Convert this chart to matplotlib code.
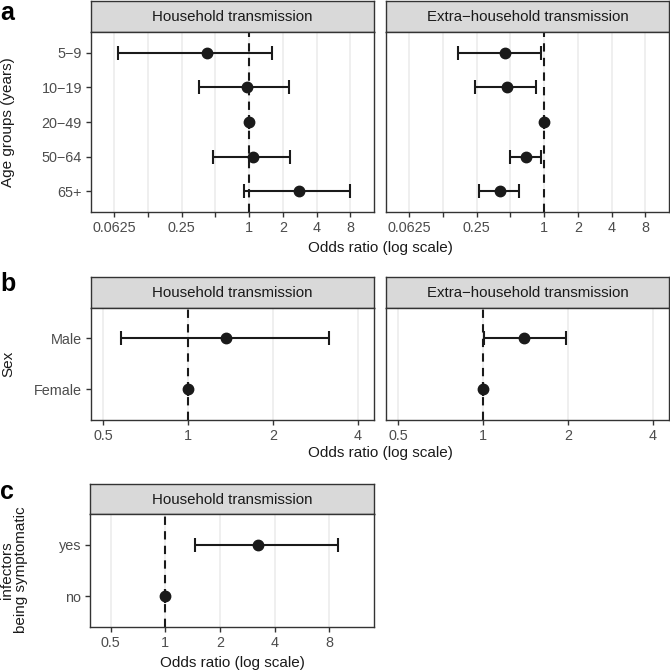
import matplotlib
matplotlib.use("Agg")
import matplotlib.pyplot as plt
from matplotlib.ticker import FixedLocator, NullLocator, FixedFormatter

plt.rcParams['font.family'] = ['Liberation Sans', 'DejaVu Sans']

# ---- data ----
age_groups = ["5\u22129", "10\u221219", "20\u221249", "50\u221264", "65+"]
age_house_or = [0.42, 0.95, 1.0, 1.08, 2.76]
age_house_lo = [0.068, 0.36, 1.0, 0.48, 0.90]
age_house_hi = [1.60, 2.28, 1.0, 2.32, 8.0]
age_extra_or = [0.45, 0.47, 1.0, 0.69, 0.40]
age_extra_lo = [0.17, 0.24, 1.0, 0.50, 0.26]
age_extra_hi = [0.94, 0.84, 1.0, 0.94, 0.60]

sex_groups = ["Male", "Female"]
sex_house_or = [1.36, 1.0]
sex_house_lo = [0.58, 1.0]
sex_house_hi = [3.16, 1.0]
sex_extra_or = [1.40, 1.0]
sex_extra_lo = [1.01, 1.0]
sex_extra_hi = [1.97, 1.0]

sym_groups = ["yes", "no"]
sym_house_or = [3.25, 1.0]
sym_house_lo = [1.46, 1.0]
sym_house_hi = [8.95, 1.0]

ticks_a = [0.0625, 0.125, 0.25, 0.5, 1, 2, 4, 8]
labels_a = ["0.0625", "", "0.25", "", "1", "2", "4", "8"]
ticks_b = [0.5, 1, 2, 4]
labels_b = ["0.5", "1", "2", "4"]
ticks_c = [0.5, 1, 2, 4, 8]
labels_c = ["0.5", "1", "2", "4", "8"]

strip_house = "Household transmission"
strip_extra = "Extra\u2212household transmission"
xlabel = "Odds ratio (log scale)"

W = H = 670
fig = plt.figure(figsize=(6.7, 6.7), dpi=100)

GREY20 = "#333333"
GREY30 = "#4D4D4D"
GRID = "#EBEBEB"
TICK_FS = 10.4
STRIP_FS = 10.8
TITLE_FS = 11


def rect(x0, y0, x1, y1):
    return [x0 / W, 1 - y1 / H, (x1 - x0) / W, (y1 - y0) / H]


def strip(x0, y0, x1, y1, text):
    s = fig.add_axes(rect(x0, y0, x1, y1))
    s.set_facecolor("#D9D9D9")
    s.set_xticks([]); s.set_yticks([])
    for sp in s.spines.values():
        sp.set_color(GREY20); sp.set_linewidth(1.0)
    s.text(0.5, 0.47, text, ha="center", va="center", fontsize=STRIP_FS, color="#1A1A1A",
           transform=s.transAxes)


def panel(x0, y0, x1, y1, cats, orv, lo, hi, xlim_log2, ticks, labels, show_y):
    ax = fig.add_axes(rect(x0, y0, x1, y1))
    ax.set_xscale("log", base=2)
    n = len(cats)
    ypos = list(range(n))
    ax.set_xlim(2 ** xlim_log2[0], 2 ** xlim_log2[1])
    ax.set_ylim(n - 1 + 0.6, -0.6)
    ax.xaxis.set_major_locator(FixedLocator(ticks))
    ax.xaxis.set_major_formatter(FixedFormatter(labels))
    ax.xaxis.set_minor_locator(NullLocator())
    ax.grid(axis="x", color=GRID, linewidth=1.1, zorder=0)
    ax.set_axisbelow(True)
    ax.axvline(1, color="#1A1A1A", linestyle=(0, (4, 3)), linewidth=1.5, zorder=2)
    xerr = [[o - l for o, l in zip(orv, lo)], [h - o for o, h in zip(orv, hi)]]
    ax.errorbar(orv, ypos, xerr=xerr, fmt="o", color="#1A1A1A", ecolor="#1A1A1A",
                elinewidth=1.5, capsize=5, capthick=1.5, markersize=7.5, zorder=3)
    ax.set_yticks(ypos)
    if show_y:
        ax.set_yticklabels(cats)
    else:
        ax.set_yticklabels([])
    ax.tick_params(axis="both", colors=GREY20, labelcolor=GREY30, labelsize=TICK_FS,
                   length=3.5, width=1.0, pad=3)
    if not show_y:
        ax.tick_params(axis="y", length=0)
    for sp in ax.spines.values():
        sp.set_color(GREY20); sp.set_linewidth(1.0)
    return ax


# ---- panel a ----
xa = (-4.69, 3.70)
strip(91, 1, 374, 32, strip_house)
panel(91, 32, 374, 212.3, age_groups, age_house_or, age_house_lo, age_house_hi,
      xa, ticks_a, labels_a, True)
strip(386, 1, 669, 32, strip_extra)
panel(386, 32, 669, 212.3, age_groups, age_extra_or, age_extra_lo, age_extra_hi,
      xa, ticks_a, labels_a, False)
fig.text(380 / W, 1 - 248 / H, xlabel, ha="center", va="center", fontsize=TITLE_FS, color="#1A1A1A")
fig.text(8 / W, 1 - 122 / H, "Age groups (years)", rotation=90, ha="center", va="center",
         fontsize=TITLE_FS, color="#1A1A1A")
fig.text(0 / W, 1 - 13 / H, "a", fontsize=18, fontweight="bold", ha="left", va="center")

# ---- panel b ----
xb = (-1.14, 2.19)
strip(91, 277.3, 374, 307.7, strip_house)
panel(91, 307.7, 374, 420, sex_groups, sex_house_or, sex_house_lo, sex_house_hi,
      xb, ticks_b, labels_b, True)
strip(386, 277.3, 669, 307.7, strip_extra)
panel(386, 307.7, 669, 420, sex_groups, sex_extra_or, sex_extra_lo, sex_extra_hi,
      xb, ticks_b, labels_b, False)
fig.text(380 / W, 1 - 453 / H, xlabel, ha="center", va="center", fontsize=TITLE_FS, color="#1A1A1A")
fig.text(8 / W, 1 - 364 / H, "Sex", rotation=90, ha="center", va="center",
         fontsize=TITLE_FS, color="#1A1A1A")
fig.text(0 / W, 1 - 284 / H, "b", fontsize=18, fontweight="bold", ha="left", va="center")

# ---- panel c ----
xc = (-1.38, 3.82)
strip(90, 484, 374, 514.3, strip_house)
panel(90, 514.3, 374, 626.7, sym_groups, sym_house_or, sym_house_lo, sym_house_hi,
      xc, ticks_c, labels_c, True)
fig.text(232 / W, 1 - 663 / H, xlabel, ha="center", va="center", fontsize=TITLE_FS, color="#1A1A1A")
fig.text(14 / W, 1 - 570 / H, "infectors\nbeing symptomatic", rotation=90, ha="center",
         va="center", fontsize=TITLE_FS, color="#1A1A1A", linespacing=1.0)
fig.text(0 / W, 1 - 492 / H, "c", fontsize=18, fontweight="bold", ha="left", va="center")

fig.savefig("out.png", dpi=100)
